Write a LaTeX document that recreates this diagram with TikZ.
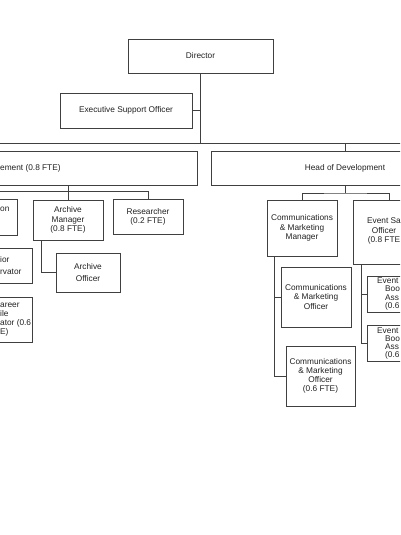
\documentclass[tikz,border=0pt]{standalone}
\usepackage{fontspec}
\setmainfont{Liberation Sans}
\usetikzlibrary{calc}
\definecolor{Edge}{HTML}{404040}
\definecolor{Ink}{HTML}{222222}
\tikzset{
  post/.style={draw=Edge,line width=.8pt,fill=white,text=Ink,align=center,inner sep=0pt,font=\fontsize{8.3}{9.2}\selectfont},
  cut/.style={text=Ink,align=left,inner sep=0pt,anchor=west,font=\fontsize{8.3}{9.2}\selectfont},
  tight/.style={font=\fontsize{8.3}{8.3}\selectfont},
  link/.style={draw=Edge,line width=.8pt}
}
\begin{document}
\begin{tikzpicture}[x=1pt,y=-1pt]
\useasboundingbox (0,0) rectangle (400,535);
\clip (0,0) rectangle (400,535);
\node[post,minimum width=145pt,minimum height=34pt] (dir) at (200.5,56) {Director};
\node[post,minimum width=132pt,minimum height=35pt] (eso) at (126,110.5) {Executive Support Officer};
\node[post,minimum width=357pt,minimum height=34pt] (hoc) at (18.5,168) {};
\node[post,minimum width=268pt,minimum height=34pt] (hod) at (345,168) {Head of Development};
\node[post,minimum width=67pt,minimum height=36pt] (con) at (-16.5,217) {};
\node[post,minimum width=70pt,minimum height=40pt] (am) at (68,220) {Archive\\Manager\\(0.8 FTE)};
\node[post,minimum width=70pt,minimum height=35pt] (res) at (148,216.5) {Researcher\\(0.2 FTE)};
\node[post,minimum width=64pt,minimum height=39pt] (ao) at (88,272.5) {Archive\\[2.5pt]Officer};
\node[post,minimum width=72pt,minimum height=35pt] (sc) at (-4,265.5) {};
\node[post,minimum width=72pt,minimum height=45pt] (ec) at (-4,319.5) {};
\node[post,minimum width=70pt,minimum height=56pt] (cmm) at (302,228) {Communications\\\& Marketing\\Manager};
\node[post,minimum width=72pt,minimum height=64pt] (evs) at (389,232) {};
\node[post,minimum width=70pt,minimum height=60pt] (cmo1) at (316,297) {Communications\\\& Marketing\\Officer};
\node[post,minimum width=69pt,minimum height=60pt] (cmo2) at (320.5,376) {Communications\\\& Marketing\\Officer\\(0.6 FTE)};
\node[post,minimum width=70pt,minimum height=36pt] (eba1) at (402,294) {};
\node[post,minimum width=70pt,minimum height=36pt] (eba2) at (402,343.5) {};

\node[cut] (hoct) at (0,168) {ement (0.8 FTE)};
\node[cut] (cont) at (0,209) {on};
\node[cut] (sct) at (0,265.5) {ior\\[2.5pt]rvator};
\node[cut] (ect) at (0,319.5) {areer\\ile\\ator (0.6\\E)};
\node[cut,anchor=center,align=center] (evst) at (384,231) {Event Sa\\Officer\\(0.8 FTE};
\node[cut,tight] (eba1t) at (377,294) {Event\\\hspace*{8pt}Boo\\\hspace*{8pt}Ass\\\hspace*{8pt}(0.6};
\node[cut,tight] (eba2t) at (377,343.5) {Event\\\hspace*{8pt}Boo\\\hspace*{8pt}Ass\\\hspace*{8pt}(0.6};

\coordinate (busL) at (-5,143);
\coordinate (busR) at (405,143);
\coordinate (cbus) at (-5,191);
\coordinate (dbus) at (345,193);
\draw[link] (dir.south) -- (dir.south |- busL);
\draw[link] (eso.east) -- (eso.east -| dir.south);
\draw[link] (busL) -- (busR);
\draw[link] (hod.north |- busR) -- (hod.north);
\draw[link] (cbus) -| (res.north);
\draw[link] (hoc.south -| am.north) -- (am.north);
\draw[link] ([xshift=-27pt]am.south) |- (ao.west);
\draw[link] (hod.south) -- (dbus);
\draw[link] (cmm.north) |- (dbus) -| (evs.north);
\draw[link] ([xshift=-28pt]cmm.south) |- (cmo1.west);
\draw[link] ([xshift=-28pt]cmm.south) |- (cmo2.west);
\draw[link] ([xshift=-28pt]evs.south) |- (eba1.west);
\draw[link] ([xshift=-28pt]evs.south) |- (eba2.west);
\end{tikzpicture}
\end{document}
